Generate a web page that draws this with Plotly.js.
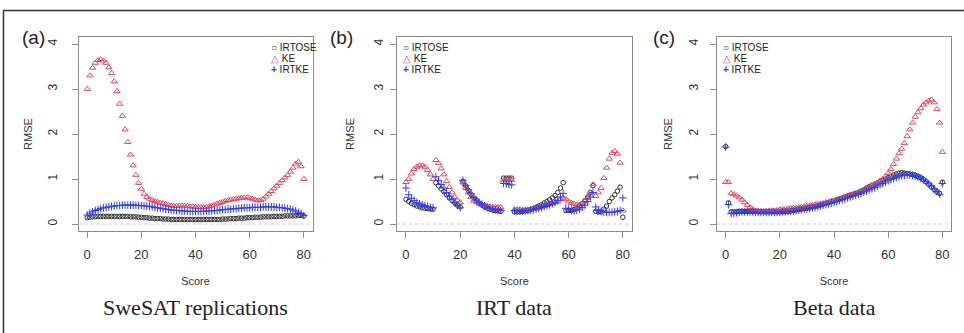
<!DOCTYPE html>
<html>
<head>
<meta charset="utf-8">
<script src="https://cdn.plot.ly/plotly-3.0.1.min.js"></script>
<style>html,body{margin:0;padding:0;background:#fff;}#chart{width:964px;height:333px;}</style>
</head>
<body>
<div id="chart"></div>
<script>
// ---------- data ----------
var scores = Array.from({length: 81}, function (_, i) { return i; });
var seriesNames = ["IRTOSE", "KE", "IRTKE"];
var panelLabels = ["(a)", "(b)", "(c)"];
var panelTitles = ["SweSAT replications", "IRT data", "Beta data"];
var xTickVals = [0, 20, 40, 60, 80];
var yTickVals = [0, 1, 2, 3, 4];

// (a) SweSAT replications
var irtoseA = [0.14,0.15,0.16,0.16,0.17,0.17,0.17,0.17,0.17,0.17,0.17,0.17,0.17,0.17,0.17,0.17,0.16,0.16,0.16,0.15,
  0.15,0.14,0.14,0.13,0.13,0.12,0.12,0.12,0.11,0.11,0.11,0.10,0.10,0.10,0.10,0.10,0.10,0.10,0.10,0.10,
  0.10,0.10,0.10,0.10,0.10,0.10,0.10,0.10,0.10,0.10,0.11,0.11,0.11,0.12,0.12,0.12,0.13,0.13,0.13,0.14,
  0.14,0.14,0.15,0.15,0.15,0.16,0.16,0.16,0.16,0.17,0.17,0.17,0.17,0.18,0.18,0.18,0.18,0.18,0.19,0.19,0.18];
var keA = [3.00,3.30,3.47,3.58,3.64,3.66,3.63,3.58,3.48,3.35,3.17,2.95,2.67,2.40,2.10,1.82,1.54,1.30,1.09,0.91,
  0.78,0.67,0.60,0.56,0.53,0.51,0.49,0.47,0.46,0.44,0.42,0.41,0.40,0.40,0.41,0.41,0.41,0.40,0.39,0.39,
  0.38,0.38,0.37,0.37,0.38,0.39,0.41,0.43,0.45,0.47,0.49,0.51,0.53,0.54,0.55,0.56,0.57,0.58,0.59,0.59,
  0.58,0.56,0.54,0.52,0.53,0.56,0.61,0.67,0.73,0.79,0.85,0.91,0.97,1.03,1.09,1.16,1.25,1.34,1.38,1.28,1.00];
var irtkeA = [0.20,0.24,0.27,0.30,0.32,0.34,0.36,0.37,0.38,0.39,0.40,0.41,0.41,0.42,0.42,0.42,0.42,0.42,0.42,0.41,
  0.41,0.40,0.40,0.39,0.38,0.37,0.36,0.35,0.34,0.33,0.32,0.31,0.31,0.30,0.30,0.29,0.29,0.28,0.28,0.28,
  0.28,0.28,0.28,0.28,0.29,0.29,0.29,0.30,0.30,0.31,0.32,0.32,0.33,0.33,0.34,0.34,0.35,0.35,0.36,0.36,
  0.36,0.37,0.37,0.37,0.37,0.38,0.38,0.38,0.38,0.38,0.37,0.37,0.36,0.35,0.34,0.33,0.31,0.29,0.26,0.23,0.19];

// (b) IRT data
var irtoseB = [0.55,0.50,0.46,0.43,0.40,0.38,0.36,0.35,0.34,0.33,0.33,
  0.92,0.85,0.78,0.72,0.65,0.58,0.52,0.47,0.42,0.38,
  0.95,0.85,0.75,0.66,0.58,0.52,0.46,0.42,0.38,0.35,0.33,0.31,0.30,0.29,0.28,
  1.02,1.02,1.02,1.02,
  0.27,0.27,0.27,0.28,0.29,0.30,0.32,0.34,0.37,0.40,0.43,0.47,0.50,0.54,0.58,0.63,0.70,0.80,0.92,
  0.30,0.30,0.30,0.32,0.35,0.40,0.45,0.52,0.60,0.70,0.85,
  0.28,0.27,0.27,0.33,0.40,0.50,0.58,0.65,0.73,0.82,0.15];
var keB = [0.93,1.00,1.12,1.22,1.27,1.30,1.30,1.27,1.20,1.10,1.00,
  1.42,1.35,1.23,1.10,0.95,0.82,0.70,0.60,0.52,0.48,
  0.92,0.80,0.70,0.60,0.52,0.48,0.45,0.43,0.42,0.40,0.39,0.38,0.38,0.37,0.37,
  0.97,0.97,0.97,0.98,
  0.32,0.32,0.32,0.31,0.31,0.31,0.32,0.33,0.34,0.36,0.38,0.40,0.42,0.44,0.46,0.48,0.50,0.55,0.58,
  0.55,0.50,0.47,0.45,0.43,0.43,0.45,0.50,0.58,0.70,0.88,
  0.62,0.70,0.80,1.02,1.25,1.45,1.58,1.62,1.56,1.36,0.30];
var irtkeB = [0.80,0.65,0.57,0.52,0.48,0.45,0.43,0.41,0.39,0.37,0.36,
  1.05,0.97,0.88,0.80,0.70,0.62,0.55,0.47,0.41,0.36,
  0.97,0.86,0.76,0.67,0.59,0.53,0.48,0.44,0.40,0.37,0.35,0.33,0.32,0.31,0.30,
  0.90,0.90,0.88,0.87,
  0.30,0.29,0.29,0.29,0.30,0.30,0.31,0.32,0.34,0.35,0.37,0.39,0.41,0.43,0.45,0.48,0.52,0.60,0.68,
  0.35,0.33,0.31,0.30,0.31,0.33,0.37,0.42,0.50,0.60,0.70,
  0.38,0.30,0.28,0.27,0.26,0.26,0.26,0.27,0.28,0.30,0.58];

// (c) Beta data
var irtoseC = [1.72,0.47,0.27,0.27,0.27,0.28,0.28,0.28,0.28,0.28,0.28,0.28,0.27,0.27,0.27,0.27,0.27,0.27,0.27,0.27,
  0.27,0.27,0.28,0.28,0.29,0.30,0.31,0.32,0.33,0.34,0.35,0.36,0.38,0.39,0.40,0.42,0.44,0.46,0.48,0.50,
  0.52,0.54,0.56,0.58,0.60,0.62,0.64,0.66,0.68,0.70,0.73,0.76,0.80,0.83,0.86,0.88,0.91,0.94,0.97,1.00,
  1.03,1.06,1.09,1.11,1.13,1.14,1.13,1.12,1.11,1.10,1.08,1.06,1.03,0.99,0.94,0.88,0.82,0.76,0.72,0.68,0.93];
var keC = [0.93,0.93,0.68,0.66,0.63,0.59,0.54,0.48,0.42,0.37,0.33,0.30,0.29,0.28,0.28,0.29,0.29,0.30,0.30,0.31,
  0.32,0.33,0.33,0.34,0.35,0.36,0.36,0.37,0.38,0.39,0.40,0.41,0.42,0.43,0.44,0.45,0.46,0.48,0.49,0.51,
  0.52,0.54,0.56,0.58,0.60,0.62,0.64,0.66,0.68,0.70,0.72,0.75,0.78,0.81,0.85,0.89,0.92,0.96,1.00,1.06,
  1.13,1.22,1.33,1.45,1.57,1.67,1.80,1.95,2.10,2.25,2.38,2.48,2.57,2.65,2.70,2.74,2.76,2.70,2.55,2.25,1.60];
var irtkeC = [1.71,0.43,0.23,0.24,0.25,0.26,0.27,0.27,0.27,0.27,0.27,0.26,0.26,0.26,0.26,0.26,0.26,0.26,0.26,0.26,
  0.26,0.27,0.27,0.28,0.28,0.29,0.30,0.31,0.32,0.33,0.34,0.35,0.36,0.37,0.39,0.40,0.42,0.43,0.45,0.46,
  0.48,0.50,0.52,0.54,0.56,0.58,0.60,0.62,0.64,0.66,0.68,0.71,0.73,0.76,0.78,0.81,0.84,0.87,0.90,0.93,
  0.96,0.99,1.01,1.03,1.05,1.07,1.08,1.09,1.09,1.08,1.07,1.05,1.02,0.98,0.94,0.89,0.84,0.78,0.72,0.66,0.90];

var panelData = [[irtoseA, keA, irtkeA], [irtoseB, keB, irtkeB], [irtoseC, keC, irtkeC]];

// ---------- styling ----------
var W = 964, H = 333;
var colors = ["#333333", "#e0485f", "#2b3cff"];
var symbols = ["circle-open", "triangle-up-open", "cross-thin-open"];
var sizes = [4.5, 5.5, 5.5];
var glyphs = ["\u25CB", "\u25B3", "<b>+</b>"];
var boxX = [[78.5, 312.5], [397.3, 631.5], [717, 951]];
var boxY = [36.8, 231.2];
var yLabStand = [10, 3, 7];
var yTitleStand = [10, 14, 12];
var font = "Liberation Sans, Arial, Helvetica, sans-serif";

var traces = [];
var layout = {
  width: W, height: H,
  margin: {l: 0, r: 0, t: 0, b: 0},
  paper_bgcolor: "#ffffff", plot_bgcolor: "#ffffff",
  showlegend: false,
  font: {family: font, color: "#333"},
  annotations: [], shapes: []
};

for (var p = 0; p < 3; p++) {
  var sfx = p === 0 ? "" : String(p + 1);
  for (var s = 0; s < 3; s++) {
    traces.push({
      type: "scatter", mode: "markers",
      x: scores, y: panelData[p][s], name: seriesNames[s],
      xaxis: "x" + sfx, yaxis: "y" + sfx,
      marker: {symbol: symbols[s], size: sizes[s], color: colors[s], line: {color: colors[s], width: 1}},
      hoverinfo: "x+y+name"
    });
  }
  var common = {
    showline: true, mirror: true, linecolor: "#8c8c8c", linewidth: 1,
    ticks: "outside", ticklen: 6, tickcolor: "#8c8c8c", tickwidth: 1,
    showgrid: false, zeroline: false
  };
  layout["xaxis" + sfx] = Object.assign({}, common, {
    domain: [boxX[p][0] / W, boxX[p][1] / W],
    range: [-3.2, 83.2], tickvals: xTickVals, anchor: "y" + sfx,
    tickfont: {family: font, size: 13, color: "#333"}, ticklabelstandoff: 5,
    title: {text: "Score", font: {family: font, size: 11, color: "#333"}, standoff: 16}
  });
  layout["yaxis" + sfx] = Object.assign({}, common, {
    domain: [(H - boxY[1]) / H, (H - boxY[0]) / H],
    range: [-0.16, 4.16], tickvals: yTickVals, tickangle: -90, anchor: "x" + sfx,
    tickfont: {family: font, size: 12, color: "#333"}, ticklabelstandoff: yLabStand[p],
    title: {text: "RMSE", font: {family: font, size: 11, color: "#333"}, standoff: yTitleStand[p]}
  });
  // dashed reference line at 0
  layout.shapes.push({
    type: "line", xref: "x" + sfx + " domain", yref: "y" + sfx,
    x0: 0, x1: 1, y0: 0, y1: 0,
    line: {color: "#c8c8c8", width: 1, dash: "dot"}
  });
  // panel tag
  var tagX = [33, 341, 664][p];
  layout.annotations.push({
    text: panelLabels[p], xref: "paper", yref: "paper",
    x: tagX / W, y: (H - 38) / H, xanchor: "center", yanchor: "middle",
    showarrow: false, font: {family: font, size: 19, color: "#222"}
  });
  // panel subtitle
  layout.annotations.push({
    text: panelTitles[p], xref: "paper", yref: "paper",
    x: (boxX[p][0] + boxX[p][1]) / 2 / W, y: (H - 307) / H, xanchor: "center", yanchor: "middle",
    showarrow: false, font: {family: "Liberation Serif, Times New Roman, serif", size: 22, color: "#222"}
  });
  // legend (R-style, inside plot box)
  var legX = [272.5, 405, 725][p];
  var legY = [48, 58.5, 69];
  for (var s2 = 0; s2 < 3; s2++) {
    layout.annotations.push({
      text: '<span style="color:' + colors[s2] + '">' + glyphs[s2] + '</span> ' + seriesNames[s2],
      xref: "paper", yref: "paper",
      x: (legX - 4) / W, y: (H - legY[s2]) / H, xanchor: "left", yanchor: "middle",
      showarrow: false, font: {family: font, size: 10, color: "#222"}
    });
  }
}
// outer frame
layout.shapes.push({
  type: "rect", xref: "paper", yref: "paper",
  x0: 3.5 / W, x1: 1.02, y0: -0.05, y1: (H - 10.5) / H,
  line: {color: "#333", width: 1.5}, fillcolor: "rgba(0,0,0,0)"
});

Plotly.newPlot("chart", traces, layout, {displayModeBar: false, staticPlot: true});
</script>
</body>
</html>
